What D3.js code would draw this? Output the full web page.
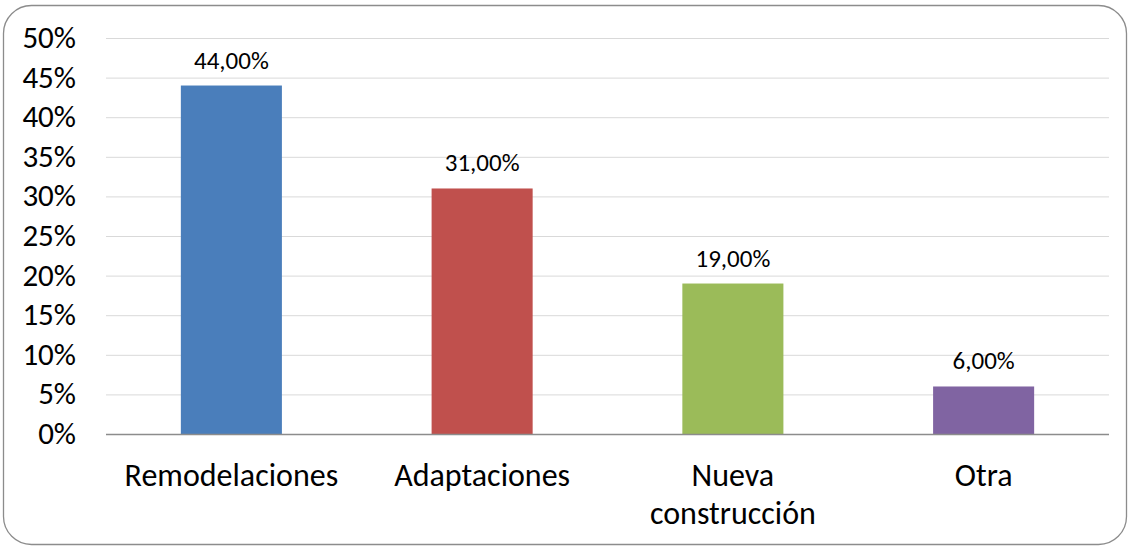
<!DOCTYPE html>
<html><head><meta charset="utf-8">
<script src="https://cdn.jsdelivr.net/npm/d3@7"></script>
<style>body{margin:0;background:#fff}svg{display:block}text{font-family:Calibri,Carlito,"Open Sans","Noto Sans",sans-serif}</style>
</head><body><svg id="c" width="1130" height="547"></svg>
<script>
const categories = [["Remodelaciones"],["Adaptaciones"],["Nueva","construcción"],["Otra"]];
const values = [44, 31, 19, 6];
const labels = ["44,00%","31,00%","19,00%","6,00%"];
const colors = ["#4a7ebb","#c0504d","#9bbb59","#8064a2"];
const yTicks = [0,5,10,15,20,25,30,35,40,45,50];

const svg = d3.select("#c");
svg.append("rect").attr("x",3.5).attr("y",5.5).attr("width",1123).attr("height",539)
  .attr("rx",28).attr("fill","#fff").attr("stroke","#8c8c8c").attr("stroke-width",1.3);

const x = d3.scaleBand().domain(d3.range(values.length)).range([106,1109]).paddingInner(0.597).paddingOuter(0.2985);
const y = d3.scaleLinear().domain([0,50]).range([434,38]);

svg.append("g").selectAll("line").data(yTicks.filter(d=>d>0)).join("line")
  .attr("x1",106).attr("x2",1109).attr("y1",d=>y(d)+0.5).attr("y2",d=>y(d)+0.5)
  .attr("stroke","#d9d9d9").attr("stroke-width",1);

svg.append("g").selectAll("rect").data(values).join("rect")
  .attr("x",(d,i)=>x(i)).attr("width",x.bandwidth())
  .attr("y",d=>y(d)).attr("height",d=>y(0)-y(d)).attr("fill",(d,i)=>colors[i]);

svg.append("line").attr("x1",106).attr("x2",1109).attr("y1",y(0)+0.5).attr("y2",y(0)+0.5)
  .attr("stroke","#8c8c8c").attr("stroke-width",1.3);

svg.append("g").selectAll("text").data(yTicks).join("text")
  .attr("x",76).attr("y",d=>y(d)+10).attr("text-anchor","end")
  .attr("font-size",31).attr("fill","#000").text(d=>d+"%");

svg.append("g").selectAll("text").data(values).join("text")
  .attr("x",(d,i)=>x(i)+x.bandwidth()/2).attr("y",d=>y(d)-17)
  .attr("text-anchor","middle").attr("font-size",25).attr("fill","#000").text((d,i)=>labels[i]);

const cat = svg.append("g").selectAll("text").data(categories).join("text")
  .attr("x",(d,i)=>x(i)+x.bandwidth()/2).attr("y",486)
  .attr("text-anchor","middle").attr("font-size",32).attr("fill","#000");
cat.each(function(d){
  const t = d3.select(this);
  d.forEach((s,j)=>t.append("tspan").attr("x",t.attr("x")).attr("dy",j?38:0).text(s));
});
</script></body></html>
